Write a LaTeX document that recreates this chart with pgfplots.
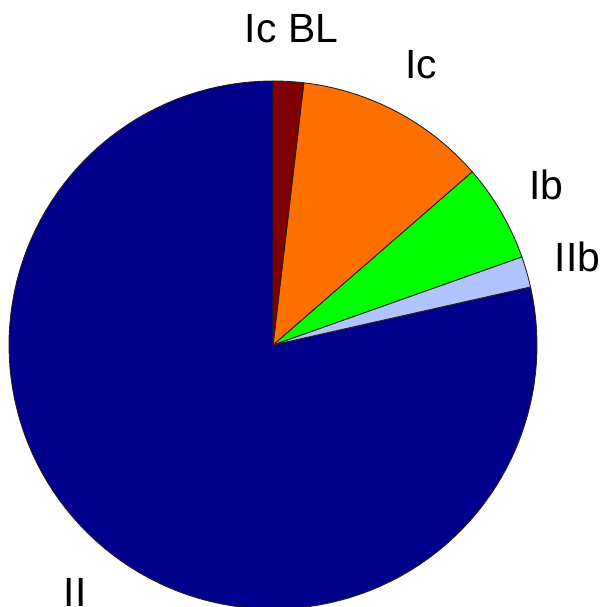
\documentclass[border=0pt]{standalone}
\usepackage{pgfplots}
\pgfplotsset{compat=1.18}
\usepackage{fontspec}
\setmainfont{Liberation Sans}
\definecolor{cII}{RGB}{0,0,140}
\definecolor{cBL}{RGB}{128,0,0}
\definecolor{cIc}{RGB}{255,112,0}
\definecolor{cIb}{RGB}{0,255,0}
\definecolor{cIIb}{RGB}{176,196,255}
\definecolor{edge}{RGB}{40,30,30}
\begin{document}
\begin{tikzpicture}
\begin{axis}[name=ax, width=602bp, height=607bp, scale only axis, hide axis,
  xmin=-1.0341, xmax=1.2462, ymin=-0.9924, ymax=1.3068, clip=false,
  every axis plot/.append style={draw=edge, line width=0.9bp, samples=120, line join=round}]
% slices: start and end angles (degrees, counter-clockwise from east)
\addplot[fill=cII,  domain=-270:12.7] ({cos(x)},{sin(x)}) -- (axis cs:0,0) -- cycle;
\addplot[fill=cIIb, domain=12.7:19.5, samples=20] ({cos(x)},{sin(x)}) -- (axis cs:0,0) -- cycle;
\addplot[fill=cIb,  domain=19.5:41.0, samples=40] ({cos(x)},{sin(x)}) -- (axis cs:0,0) -- cycle;
\addplot[fill=cIc,  domain=41.0:83.3, samples=60] ({cos(x)},{sin(x)}) -- (axis cs:0,0) -- cycle;
\addplot[fill=cBL,  domain=83.3:90, samples=20] ({cos(x)},{sin(x)}) -- (axis cs:0,0) -- cycle;
\begin{scope}[every node/.style={font=\fontsize{41}{44}\selectfont, inner sep=0pt, anchor=center}]
\node at (axis cs:0.0701,1.198) {Ic BL};
\node at (axis cs:0.5607,1.0610) {Ic};
\node at (axis cs:1.0366,0.6046) {Ib};
\node at (axis cs:1.153,0.3328) {IIb};
\node at (axis cs:-0.750,-0.9367) {II};
\end{scope}
\end{axis}
\pgfresetboundingbox
\path[use as bounding box] (ax.south west) rectangle (ax.north east);
\end{tikzpicture}
\end{document}
